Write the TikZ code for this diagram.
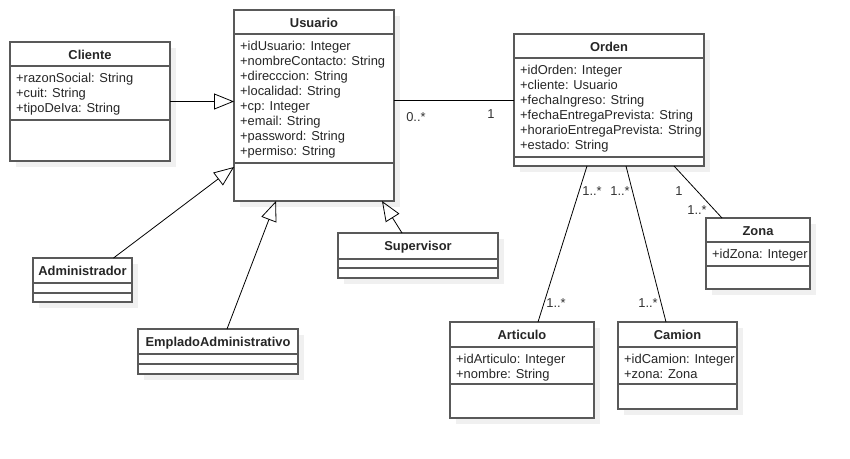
\documentclass[tikz,border=0pt]{standalone}
\usepackage{fontspec}
\setmainfont{Liberation Sans}
\usetikzlibrary{arrows.meta}
\usetikzlibrary{shadows}

\tikzset{
  classbody/.style={draw=black!65, line width=1.1pt, fill=white, rectangle, inner sep=0pt, outer sep=0pt,
    drop shadow={fill=black!6, opacity=1, shadow xshift=6pt, shadow yshift=-6pt}},
  classline/.style={draw=black!65, line width=1.1pt},
  classtitle/.style={font=\fontsize{12.9}{15}\selectfont\bfseries, text=black!85, inner sep=0pt},
  classattr/.style={font=\fontsize{12.9}{15}\selectfont, text=black!85, align=left, inner sep=0pt},
  mult/.style={font=\fontsize{12.9}{15}\selectfont, text=black!80, inner sep=0pt},
  inherit/.style={draw=black, line width=0.8pt, -{Triangle[open, length=20pt, width=16pt]}},
  assoc/.style={draw=black, line width=0.8pt},
}

% name, x, top, width, title line, attribute line, bottom, title, attributes
\newcommand{\umlclass}[9]{%
  \node[classbody, anchor=north west, minimum width=#4pt, minimum height={(#7-#3)*1pt}] (#1) at (#2,#3) {};
  \draw[classline] (#2,#5) -- ++(#4,0);
  \draw[classline] (#2,#6) -- ++(#4,0);
  \node[classtitle, anchor=base] (#1-title) at ({#2+#4/2},{#3+17}) {#8};
  \node[classattr, anchor=north west] (#1-attr) at ({#2+6},{#5+6}) {\rule{0pt}{10pt}#9};
}

\begin{document}
\begin{tikzpicture}[x=1pt, y=-1pt]
\useasboundingbox (0,0) rectangle (850,458);

% classes
\umlclass{cliente}{10}{42}{160}{66}{120}{161}{Cliente}{+razonSocial: String\\+cuit: String\\+tipoDeIva: String}
\umlclass{usuario}{234}{10}{160}{34}{163}{201}{Usuario}{+idUsuario: Integer\\+nombreContacto: String\\+direcccion: String\\+localidad: String\\+cp: Integer\\+email: String\\+password: String\\+permiso: String}
\umlclass{orden}{514}{34}{190}{58}{157}{166}{Orden}{+idOrden: Integer\\+cliente: Usuario\\+fechaIngreso: String\\+fechaEntregaPrevista: String\\+horarioEntregaPrevista: String\\+estado: String}
\umlclass{zona}{706}{218}{104}{242}{266}{289}{Zona}{+idZona: Integer}
\umlclass{articulo}{450}{322}{144}{347}{384}{418}{Articulo}{+idArticulo: Integer\\+nombre: String}
\umlclass{camion}{618}{322}{119}{347}{384}{409}{Camion}{+idCamion: Integer\\+zona: Zona}
\umlclass{admin}{33}{258}{99}{283}{293}{302}{Administrador}{}
\umlclass{empleado}{138}{329}{160}{354}{364}{374}{EmpladoAdministrativo}{}
\umlclass{supervisor}{338}{233}{160}{259}{268}{278}{Supervisor}{}

% generalizations
\draw[inherit] (cliente.east) -- (cliente.east -| usuario.west);
\draw[inherit] ([xshift=31pt]admin.north) -- ([yshift=34pt]usuario.south west);
\draw[inherit] ([xshift=9pt]empleado.north) -- ([xshift=-38pt]usuario.south);
\draw[inherit] ([xshift=-16pt]supervisor.north) -- ([xshift=-12pt]usuario.south east);

% associations
\draw[assoc] (orden.west -| usuario.east) -- (orden.west);
\node[mult] (m-usuario) at (416,117) {0..*};
\node[mult] (m-orden) at (491,114) {1};

\draw[assoc] ([xshift=-22pt]orden.south) -- ([xshift=16pt]articulo.north);
\node[mult] (m-orden-art) at (592,191) {1..*};
\node[mult] (m-art) at (556,303) {1..*};

\draw[assoc] ([xshift=17pt]orden.south) -- ([xshift=-11.5pt]camion.north);
\node[mult] (m-orden-cam) at (620,191) {1..*};
\node[mult] (m-cam) at (648,303) {1..*};

\draw[assoc] ([xshift=65pt]orden.south) -- ([xshift=16pt]zona.north west);
\node[mult] (m-orden-zona) at (679,191) {1};
\node[mult] (m-zona) at (697,210) {1..*};
\end{tikzpicture}
\end{document}
